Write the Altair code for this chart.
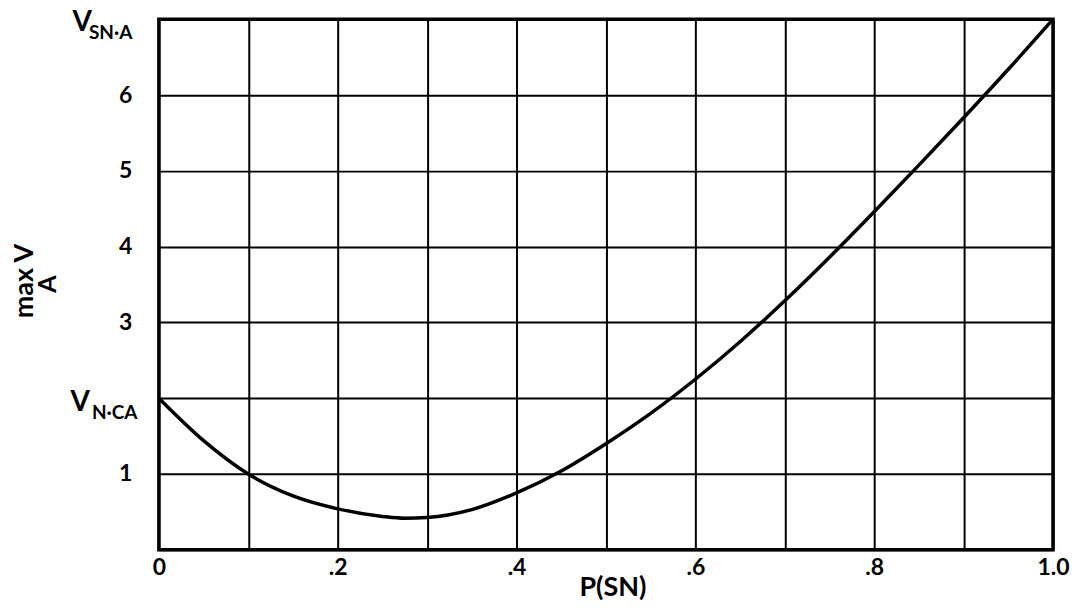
import altair as alt
import pandas as pd

# ---- data ----
p_sn = [0.0, 0.05, 0.1, 0.15, 0.2, 0.25, 0.275, 0.3, 0.35, 0.4, 0.45, 0.5,
        0.55, 0.6, 0.65, 0.7, 0.75, 0.8, 0.85, 0.9, 0.95, 1.0]
max_v = [2.0, 1.44, 1.0, 0.71, 0.54, 0.44, 0.415, 0.425, 0.53, 0.75, 1.04, 1.40,
         1.80, 2.25, 2.745, 3.285, 3.86, 4.46, 5.075, 5.70, 6.34, 7.0]

x_grid = [0.0, 0.1, 0.2, 0.3, 0.4, 0.5, 0.6, 0.7, 0.8, 0.9, 1.0]
x_label_pos = [0.0, 0.2, 0.4, 0.6, 0.8, 1.0]
x_label_txt = ["0", ".2", ".4", ".6", ".8", "1.0"]

y_grid = [0, 1, 2, 3, 4, 5, 6, 7]
y_label_pos = [1, 3, 4, 5, 6]
y_label_txt = ["1", "3", "4", "5", "6"]

sym_y = [7, 2]
sym_main = ["V", "V"]
sym_sub = ["SN·A", "N·CA"]

FONT = "Lato"

curve = pd.DataFrame({"p": p_sn, "v": max_v})
syms = pd.DataFrame({"p": [0.0, 0.0], "v": sym_y, "main": sym_main, "sub": sym_sub})

x_expr = "".join(f"round(datum.value*10)=={round(v*10)} ? '{t}' : "
                 for v, t in zip(x_label_pos, x_label_txt)) + "''"
y_expr = "".join(f"datum.value=={v} ? '{t}' : "
                 for v, t in zip(y_label_pos, y_label_txt)) + "''"

xscale = alt.Scale(domain=[0, 1], nice=False, zero=False)
yscale = alt.Scale(domain=[0, 7], nice=False, zero=False)

xaxis = alt.Axis(
    values=x_grid, labelExpr=x_expr, grid=True, gridColor="black",
    gridWidth=2, gridOpacity=1, ticks=False, domain=False,
    labelFont=FONT, labelFontSize=23, labelFontWeight="bold",
    labelColor="black", labelPadding=7, labelFlush=False,
    title="P(SN)", titleFont=FONT, titleFontSize=27,
    titleFontWeight="bold", titleColor="black",
    titleX=454, titleY=38, titleBaseline="middle")
yaxis = alt.Axis(
    values=y_grid, labelExpr=y_expr, grid=True, gridColor="black",
    gridWidth=2, gridOpacity=1, ticks=False, domain=False,
    labelFont=FONT, labelFontSize=23, labelFontWeight="bold",
    labelColor="black", labelPadding=27, labelFlush=False, title="")

line = alt.Chart(curve).mark_line(
    color="black", strokeWidth=3.5, interpolate="monotone"
).encode(
    x=alt.X("p:Q", scale=xscale, axis=xaxis),
    y=alt.Y("v:Q", scale=yscale, axis=yaxis),
)

layers = [line]
main_dx = [-67, -69]
main_dy = [4, 5]
sub_dx = [-70, -67]
sub_dy = [14, 15]
for i in range(len(sym_y)):
    base = alt.Chart(syms).transform_filter(alt.datum.v == sym_y[i])
    layers.append(base.mark_text(
        align="right", baseline="middle", dx=main_dx[i], dy=main_dy[i],
        font=FONT, fontSize=28, fontWeight="bold", color="black"
    ).encode(x=alt.X("p:Q", scale=xscale, axis=xaxis),
             y=alt.Y("v:Q", scale=yscale, axis=yaxis), text="main:N"))
    layers.append(base.mark_text(
        align="left", baseline="middle", dx=sub_dx[i], dy=sub_dy[i],
        font=FONT, fontSize=19, fontWeight="bold", color="black"
    ).encode(x=alt.X("p:Q", scale=xscale, axis=xaxis),
             y=alt.Y("v:Q", scale=yscale, axis=yaxis), text="sub:N"))

ytitle = pd.DataFrame({"t": ["max V"], "s": ["A"]})
layers.append(alt.Chart(ytitle).mark_text(
    angle=270, align="center", baseline="middle", font=FONT, fontSize=27,
    fontWeight="bold", color="black"
).encode(x=alt.value(-134), y=alt.value(262), text="t:N"))
layers.append(alt.Chart(ytitle).mark_text(
    angle=270, align="center", baseline="middle", font=FONT, fontSize=25,
    fontWeight="bold", color="black"
).encode(x=alt.value(-111), y=alt.value(265), text="s:N"))

chart = alt.layer(*layers).properties(
    width=895, height=531,
    padding={"left": 151, "top": 11, "right": 19, "bottom": 52},
    autosize=alt.AutoSizeParams(type="none"),
    background="white",
).configure_view(stroke="black", strokeWidth=3.5)

chart.save("out.html", embed_options={"renderer": "svg", "actions": False})
